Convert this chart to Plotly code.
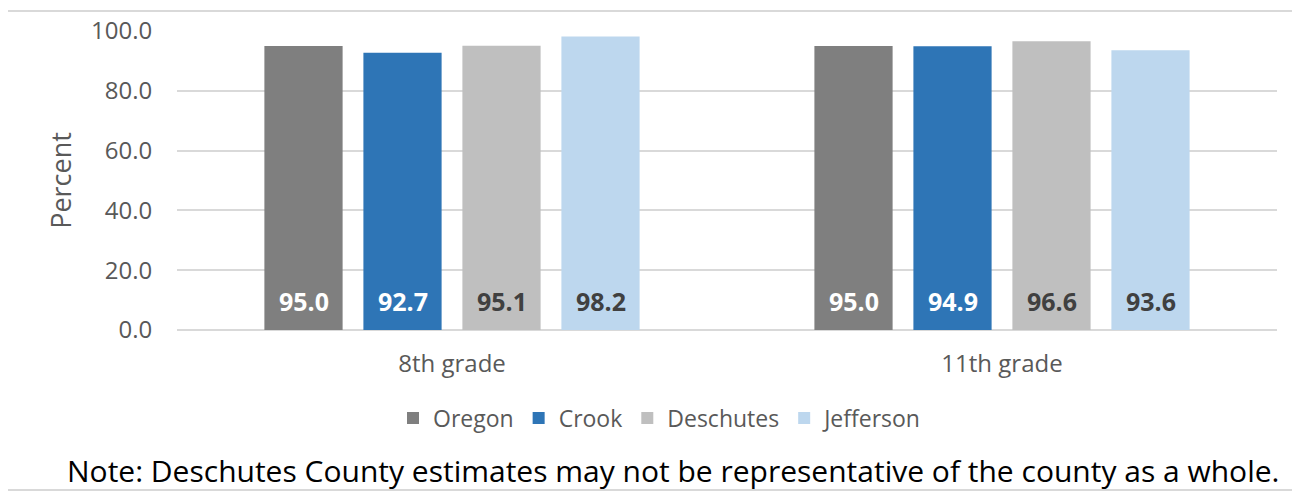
import plotly.graph_objects as go

categories = ["8th grade", "11th grade"]
series_names = ["Oregon", "Crook", "Deschutes", "Jefferson"]
oregon = [95.0, 95.0]
crook = [92.7, 94.9]
deschutes = [95.1, 96.6]
jefferson = [98.2, 93.6]
values = [oregon, crook, deschutes, jefferson]
y_ticks = [0, 20, 40, 60, 80, 100]
note = "Note: Deschutes County estimates may not be representative of the county as a whole."

colors = ["#7f7f7f", "#2e75b6", "#bfbfbf", "#bdd7ee"]
label_colors = ["#ffffff", "#ffffff", "#404040", "#404040"]

FONT = "Open Sans, Liberation Sans, sans-serif"
GREY = "#595959"

fig = go.Figure()
for name, vals, col in zip(series_names, values, colors):
    fig.add_trace(go.Bar(name=name, x=categories, y=vals, marker_color=col,
                         marker_line_width=0, hoverinfo="skip"))

BARGAP = 0.28
slot = (1 - BARGAP) / len(series_names)
annotations = []
for si, (vals, lc) in enumerate(zip(values, label_colors)):
    for ci, v in enumerate(vals):
        annotations.append(dict(
            x=ci + (si - (len(series_names) - 1) / 2) * slot, y=9.6,
            xref="x", yref="y", text=f"<b>{v:.1f}</b>", showarrow=False,
            font=dict(family=FONT, size=25, color=lc)))

annotations.append(dict(x=(673 - 177) / 1100, y=-(470 - 330) / 299, xref="paper", yref="paper",
                        text=note, showarrow=False, xanchor="center", yanchor="middle",
                        font=dict(family=FONT, size=30, color="#000000")))

# the page body adds an 8px margin, so the figure is 8px smaller and shifted
fig.update_layout(
    width=1292, height=485,
    margin=dict(l=169, r=23, t=23, b=163, autoexpand=False),
    paper_bgcolor="white", plot_bgcolor="white",
    barmode="group", bargap=BARGAP, bargroupgap=0.21,
    font=dict(family=FONT, color=GREY, size=20),
    showlegend=True,
    legend=dict(orientation="h", x=(660 - 177) / 1100, y=-(418 - 330) / 299,
                xanchor="center", yanchor="middle",
                font=dict(family=FONT, size=23, color=GREY), traceorder="normal",
                itemclick=False),
    annotations=annotations,
    shapes=[dict(type="rect", xref="paper", yref="paper",
                 x0=(7 - 177) / 1100, x1=(1310 - 177) / 1100,
                 y0=-(490 - 330) / 299, y1=(330 - 11) / 299,
                 line=dict(color="#d9d9d9", width=2), fillcolor="rgba(0,0,0,0)",
                 layer="below")],
)
fig.update_yaxes(range=[0, 100], tickvals=y_ticks, tickformat=".1f",
                 showgrid=True, gridcolor="#d9d9d9", gridwidth=1.5,
                 zeroline=True, zerolinecolor="#d9d9d9", zerolinewidth=1.5,
                 showline=False, ticks="outside", ticklen=19, tickcolor="rgba(0,0,0,0)",
                 tickfont=dict(family=FONT, size=24, color=GREY),
                 title=dict(text="Percent", font=dict(family=FONT, size=27, color=GREY),
                            standoff=11))
fig.update_xaxes(showgrid=False, showline=False, ticks="outside", ticklen=12,
                 tickcolor="rgba(0,0,0,0)",
                 tickfont=dict(family=FONT, size=24, color=GREY))

fig.write_html("out.html")
